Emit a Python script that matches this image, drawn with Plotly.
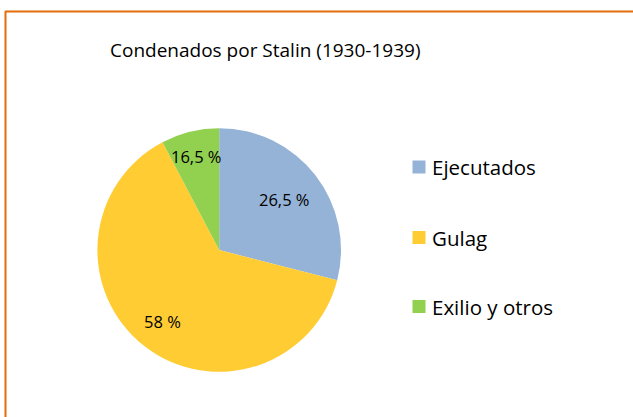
import math
import plotly.graph_objects as go

W, H = 633, 417

labels = ["Ejecutados", "Gulag", "Exilio y otros"]
values = [29.0, 63.3, 7.7]
text_labels = ["26,5 %", "58 %", "16,5 %"]
colors = ["#95B3D7", "#FFCC33", "#92D050"]
title = "Condenados por Stalin (1930-1939)"

FONT = "Open Sans"

def px(x):
    return x / W

def py(y):
    return 1 - y / H

cx, cy, r = 219.2, 250.0, 121.8
label_rfrac = [0.68, 0.75, 0.79]

fig = go.Figure(go.Pie(
    labels=labels,
    values=values,
    textinfo="none",
    marker=dict(colors=colors, line=dict(width=0)),
    sort=False,
    direction="clockwise",
    rotation=0,
    showlegend=False,
    domain=dict(x=[px(cx - r), px(cx + r)], y=[py(cy + r), py(cy - r)]),
))

shapes = [
    dict(type="line", xref="paper", yref="paper", x0=px(5), x1=px(640), y0=py(11.5), y1=py(11.5),
         line=dict(color="#E46C0A", width=2)),
    dict(type="line", xref="paper", yref="paper", x0=px(5.5), x1=px(5.5), y0=py(11), y1=py(430),
         line=dict(color="#E46C0A", width=2)),
]
annotations = [
    dict(text=title, xref="paper", yref="paper", x=px(265), y=py(50), xanchor="center", yanchor="middle",
         showarrow=False, font=dict(family=FONT, size=19, color="black")),
]

# slice data labels placed at the slice mid-angle
total = sum(values)
cum = 0.0
for v, t, f in zip(values, text_labels, label_rfrac):
    mid = (cum + v / 2) / total * 2 * math.pi
    cum += v
    lx = cx + f * r * math.sin(mid)
    ly = cy - f * r * math.cos(mid)
    annotations.append(dict(text=t, xref="paper", yref="paper", x=px(lx), y=py(ly),
                            xanchor="center", yanchor="middle", showarrow=False,
                            font=dict(family=FONT, size=16.5, color="black")))

legend_y = [167, 237.5, 306.5]
for lab, col, ly in zip(labels, colors, legend_y):
    shapes.append(dict(type="rect", xref="paper", yref="paper", x0=px(412.5), x1=px(425.5),
                       y0=py(ly + 6.5), y1=py(ly - 6.5), fillcolor=col, line=dict(width=0)))
    annotations.append(dict(text=lab, xref="paper", yref="paper", x=px(430), y=py(ly),
                            xanchor="left", yanchor="middle", showarrow=False,
                            font=dict(family=FONT, size=20.5, color="black")))

fig.update_layout(
    width=W, height=H,
    margin=dict(l=0, r=0, t=0, b=0),
    paper_bgcolor="white",
    plot_bgcolor="white",
    shapes=shapes,
    annotations=annotations,
)

fig.write_html("out.html", config={"displayModeBar": False},
               post_script="document.body.style.margin='0';document.body.style.padding='0';")
